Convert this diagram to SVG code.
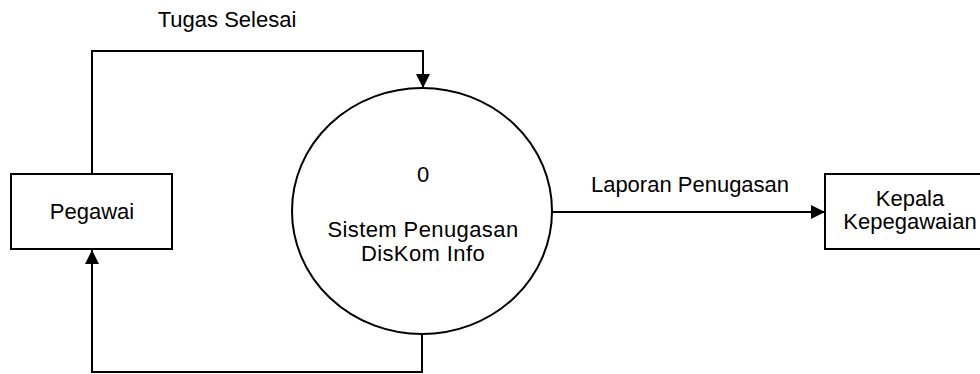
<svg xmlns="http://www.w3.org/2000/svg" width="980" height="374" viewBox="0 0 980 374">
<defs>
<style>
text{font-family:"Liberation Sans",Arial,sans-serif;font-size:22px;fill:#000;text-anchor:middle}
.node{fill:#fff;stroke:#000;stroke-width:2}
.conn{fill:none;stroke:#000;stroke-width:2}
</style>
<marker id="arr" viewBox="0 0 14 14" refX="14" refY="7" markerWidth="14" markerHeight="14" markerUnits="userSpaceOnUse" orient="auto">
<path d="M0,0 L14,7 L0,14 Z" fill="#000"/>
</marker>
</defs>
<rect width="980" height="374" fill="#fff"/>
<g id="connectors">
<path class="conn" d="M92,174 V51 H423 V88" marker-end="url(#arr)"/>
<path class="conn" d="M422,334 V372 H92 V250" marker-end="url(#arr)"/>
<path class="conn" d="M551,212 H825" marker-end="url(#arr)"/>
<text x="227" y="27">Tugas Selesai</text>
<text x="690" y="192">Laporan Penugasan</text>
</g>
<g id="pegawai">
<rect class="node" x="11" y="174" width="161" height="75"/>
<text x="92" y="219">Pegawai</text>
</g>
<g id="proses0">
<ellipse class="node" cx="422" cy="211" rx="130" ry="123" stroke-width="1.6"/>
<text x="423" y="182">0</text>
<text x="423" y="237" font-size="19.5" letter-spacing="0.4"><tspan x="423">Sistem Penugasan</tspan><tspan x="423" dy="24">DisKom Info</tspan></text>
</g>
<g id="kepala">
<rect class="node" x="825" y="174" width="170" height="75"/>
<text x="910" y="206"><tspan x="910">Kepala</tspan><tspan x="910" dy="23">Kepegawaian</tspan></text>
</g>
</svg>
